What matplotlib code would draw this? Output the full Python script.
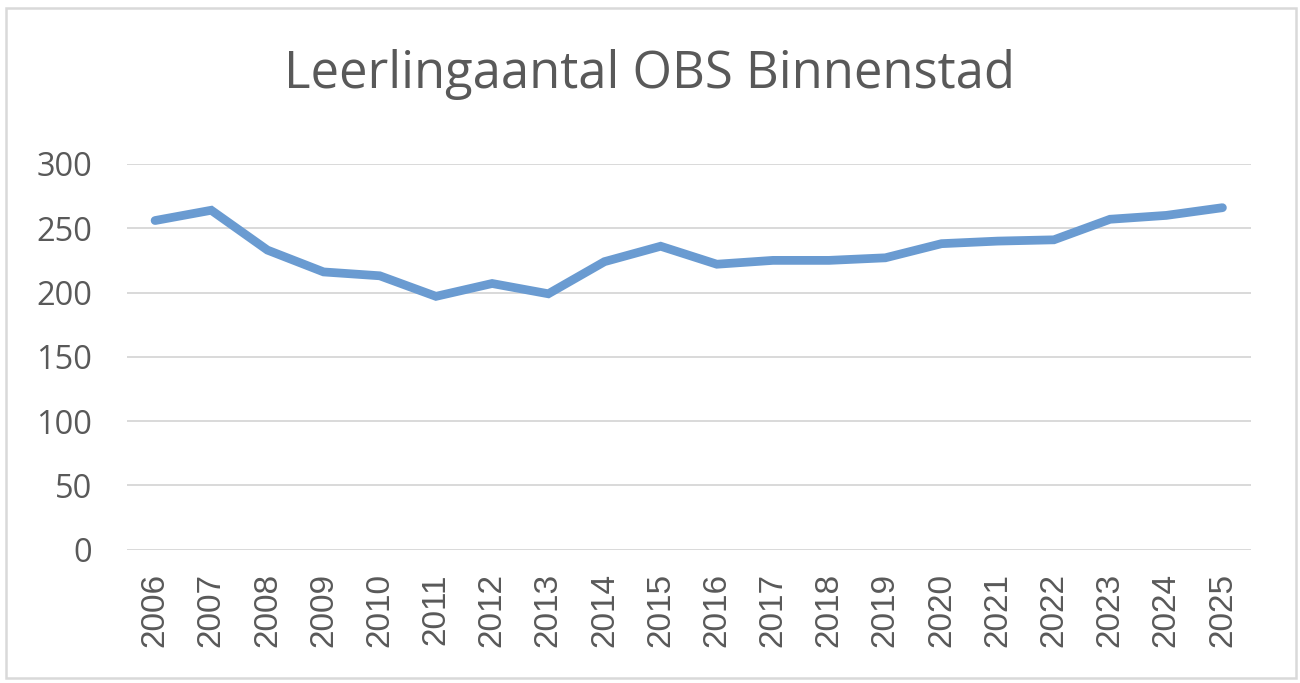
import matplotlib
matplotlib.use("Agg")
import matplotlib.pyplot as plt
from matplotlib.patches import Rectangle

years = ["2006", "2007", "2008", "2009", "2010", "2011", "2012", "2013", "2014", "2015",
         "2016", "2017", "2018", "2019", "2020", "2021", "2022", "2023", "2024", "2025"]
leerlingen = [256, 264, 233, 216, 213, 197, 207, 199, 224, 236,
              222, 225, 225, 227, 238, 240, 241, 257, 260, 266]
yticks = [0, 50, 100, 150, 200, 250, 300]

W, H = 1300, 683
fig = plt.figure(figsize=(W / 100, H / 100), dpi=100)
fig.patch.set_facecolor("white")

# outer chart border
fig.add_artist(Rectangle((6 / W, 1 - 678 / H), (1296 - 6) / W, (678 - 8) / H,
                         transform=fig.transFigure, fill=False,
                         edgecolor="#D9D9D9", linewidth=1.8))

ax = fig.add_axes([127 / W, 1 - 549.5 / H, (1250.5 - 127) / W, (549.5 - 164) / H])
x = list(range(len(years)))
ax.plot(x, leerlingen, color="#6A9BD1", linewidth=6.3, solid_capstyle="round",
        solid_joinstyle="miter", zorder=3)

ax.set_xlim(-0.5, len(years) - 0.5)
ax.set_ylim(0, 300)
ax.set_yticks(yticks)
ax.set_yticklabels([str(v) for v in yticks])
ax.set_xticks(x)
ax.set_xticklabels(years, rotation=90)

for v in yticks:
    ax.axhline(v, color="#D9D9D9", linewidth=1.4, zorder=1)

for s in ax.spines.values():
    s.set_visible(False)
ax.tick_params(axis="both", length=0, colors="#595959")
ax.tick_params(axis="y", pad=25, labelsize=23.5)
ax.tick_params(axis="x", pad=17, labelsize=24)
for lab in ax.get_yticklabels():
    lab.set_fontfamily("Open Sans")
    lab.set_color("#595959")
for lab in ax.get_xticklabels():
    lab.set_fontfamily("Liberation Sans")
    lab.set_color("#595959")

fig.text(0.5, 1 - 75 / H, "Leerlingaantal OBS Binnenstad", ha="center", va="center",
         fontsize=36.5, color="#595959", family="Open Sans")

fig.savefig("out.png", dpi=100, facecolor="white")
